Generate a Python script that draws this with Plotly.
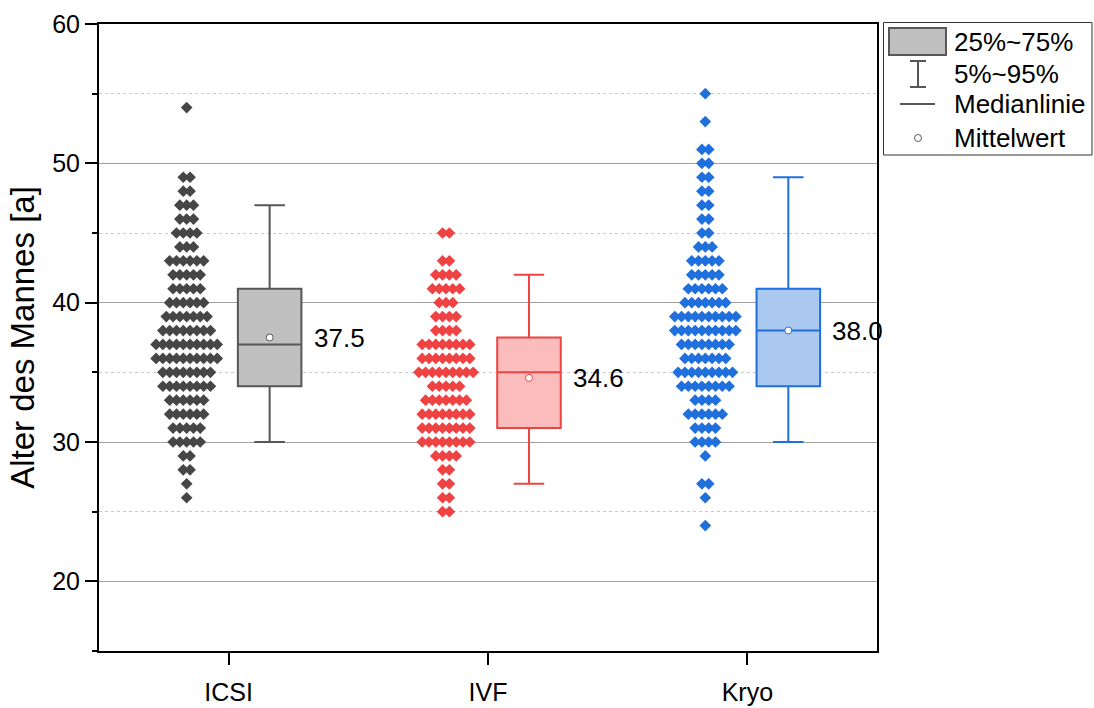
import plotly.graph_objects as go

# ---------------- data ----------------
categories = ["ICSI", "IVF", "Kryo"]

icsi_ages = [54, 49, 48, 47, 46, 45, 44, 43, 42, 41, 40, 39, 38, 37, 36, 35, 34, 33, 32, 31, 30, 29, 28, 27, 26]
icsi_counts = [1, 2, 2, 3, 3, 4, 3, 6, 5, 5, 6, 7, 8, 10, 10, 8, 8, 6, 6, 5, 5, 2, 2, 1, 1]

ivf_ages = [45, 43, 42, 41, 40, 39, 38, 37, 36, 35, 34, 33, 32, 31, 30, 29, 28, 27, 26, 25]
ivf_counts = [2, 2, 4, 5, 3, 4, 4, 8, 8, 9, 5, 7, 8, 8, 8, 4, 2, 2, 2, 2]

kryo_ages = [55, 53, 51, 50, 49, 48, 47, 46, 45, 44, 43, 42, 41, 40, 39, 38, 37, 36, 35, 34, 33, 32, 31, 30, 29, 27, 26, 24]
kryo_counts = [1, 1, 2, 2, 2, 2, 2, 2, 2, 3, 5, 5, 6, 7, 10, 10, 8, 7, 9, 8, 4, 6, 4, 4, 1, 2, 1, 1]

q1 = [34, 31, 34]
median = [37, 35, 38]
q3 = [41, 37.5, 41]
p5 = [30, 27, 30]
p95 = [47, 42, 49]
means = [37.5, 34.6, 38.0]
mean_labels = ["37.5", "34.6", "38.0"]

# ---------------- style ----------------
dot_colors = ["#464646", "#ef4343", "#1f6fdc"]
box_fill = ["#c0c0c0", "#fbbcbc", "#abc8f0"]
box_line = ["#575757", "#ef4343", "#1f6fdc"]
FONT = "Arial, 'Liberation Sans', sans-serif"

SWARM_OFF = -0.162
BOX_OFF = 0.158
BOX_W = 0.245
DOT_STEP = 0.0262

groups = [(icsi_ages, icsi_counts), (ivf_ages, ivf_counts), (kryo_ages, kryo_counts)]

fig = go.Figure()

for gi, (ages, counts) in enumerate(groups):
    center = gi + 1 + SWARM_OFF
    xs, ys = [], []
    for a, n in zip(ages, counts):
        for i in range(n):
            xs.append(center + (i - (n - 1) / 2) * DOT_STEP)
            ys.append(a)
    fig.add_trace(go.Scatter(
        x=xs, y=ys, mode="markers",
        marker=dict(symbol="diamond", size=9, color=dot_colors[gi], line=dict(width=0)),
        showlegend=False, hoverinfo="y"))

    bx = gi + 1 + BOX_OFF
    fig.add_trace(go.Box(
        x=[bx], q1=[q1[gi]], median=[median[gi]], q3=[q3[gi]],
        lowerfence=[p5[gi]], upperfence=[p95[gi]],
        width=BOX_W, whiskerwidth=0.48, boxpoints=False,
        fillcolor=box_fill[gi], line=dict(color=box_line[gi], width=2),
        showlegend=False))

    fig.add_trace(go.Scatter(
        x=[bx], y=[means[gi]], mode="markers",
        marker=dict(symbol="circle", size=7, color="white", line=dict(color=box_line[gi], width=1)),
        showlegend=False, hoverinfo="y"))

    fig.add_annotation(x=gi + 1 + 0.32, y=means[gi], text=mean_labels[gi],
                       showarrow=False, xanchor="left", yanchor="middle",
                       font=dict(size=26, color="black", family=FONT))

# ---------------- legend (drawn by hand) ----------------
L, R, T, B = 99, 877, 24, 651
def px(v):
    return (v - L) / (R - L)
def py(v):
    return (B - v) / (B - T)

shapes = []
shapes.append(dict(type="rect", xref="paper", yref="paper", x0=px(883.5), x1=px(1092), y0=py(22.5), y1=py(155),
                   line=dict(color="#333333", width=1), fillcolor="white", layer="above"))
shapes.append(dict(type="rect", xref="paper", yref="paper", x0=px(889), x1=px(946), y0=py(28), y1=py(55),
                   line=dict(color="#575757", width=2), fillcolor="#c0c0c0", layer="above"))
# I-beam
shapes.append(dict(type="line", xref="paper", yref="paper", x0=px(918), x1=px(918), y0=py(61), y1=py(87),
                   line=dict(color="#575757", width=2), layer="above"))
shapes.append(dict(type="line", xref="paper", yref="paper", x0=px(910), x1=px(926), y0=py(61), y1=py(61),
                   line=dict(color="#575757", width=2), layer="above"))
shapes.append(dict(type="line", xref="paper", yref="paper", x0=px(910), x1=px(926), y0=py(87), y1=py(87),
                   line=dict(color="#575757", width=2), layer="above"))
# median line
shapes.append(dict(type="line", xref="paper", yref="paper", x0=px(900), x1=px(935), y0=py(104), y1=py(104),
                   line=dict(color="#575757", width=2), layer="above"))
# mean circle
shapes.append(dict(type="circle", xref="paper", yref="paper", x0=px(914.5), x1=px(921.5), y0=py(134.5), y1=py(141.5),
                   line=dict(color="#575757", width=1), fillcolor="white", layer="above"))

legend_texts = ["25%~75%", "5%~95%", "Medianlinie", "Mittelwert"]
legend_y = [41.5, 74, 104, 138]
for t, yy in zip(legend_texts, legend_y):
    fig.add_annotation(xref="paper", yref="paper", x=px(952), y=py(yy), text=t, showarrow=False,
                       xanchor="left", yanchor="middle", font=dict(size=26, color="black", family=FONT))

fig.update_layout(
    width=1094, height=708,
    margin=dict(l=L, r=1094 - R, t=T, b=708 - B),
    paper_bgcolor="white", plot_bgcolor="white",
    font=dict(family=FONT, color="black"),
    shapes=shapes,
    showlegend=False,
)

fig.update_xaxes(
    range=[0.5, 3.5], tickvals=[1, 2, 3], ticktext=categories,
    showgrid=False, zeroline=False, automargin=False,
    showline=True, linecolor="black", linewidth=2, mirror=True,
    ticks="outside", ticklen=12, tickwidth=2, tickcolor="black",
    ticklabelstandoff=6,
    tickfont=dict(size=25, family=FONT, color="black"),
)
fig.update_yaxes(
    range=[15, 60], tick0=0, dtick=10, automargin=False,
    showgrid=True, gridcolor="#a0a0a0", gridwidth=1, zeroline=False,
    showline=True, linecolor="black", linewidth=2, mirror=True,
    ticks="outside", ticklen=12, tickwidth=2, tickcolor="black",
    tickfont=dict(size=25, family=FONT, color="black"),
    minor=dict(dtick=5, tick0=0, ticks="outside", ticklen=5, tickwidth=1.5, tickcolor="black",
               showgrid=True, gridcolor="#c8c8c8", griddash="dot", gridwidth=1),
    title=dict(text="Alter des Mannes [a]", font=dict(size=33, family=FONT, color="black"), standoff=8),
)

fig.write_html("out.html", config={"displayModeBar": False},
               post_script="document.body.style.margin='0';document.body.style.overflow='hidden';")
